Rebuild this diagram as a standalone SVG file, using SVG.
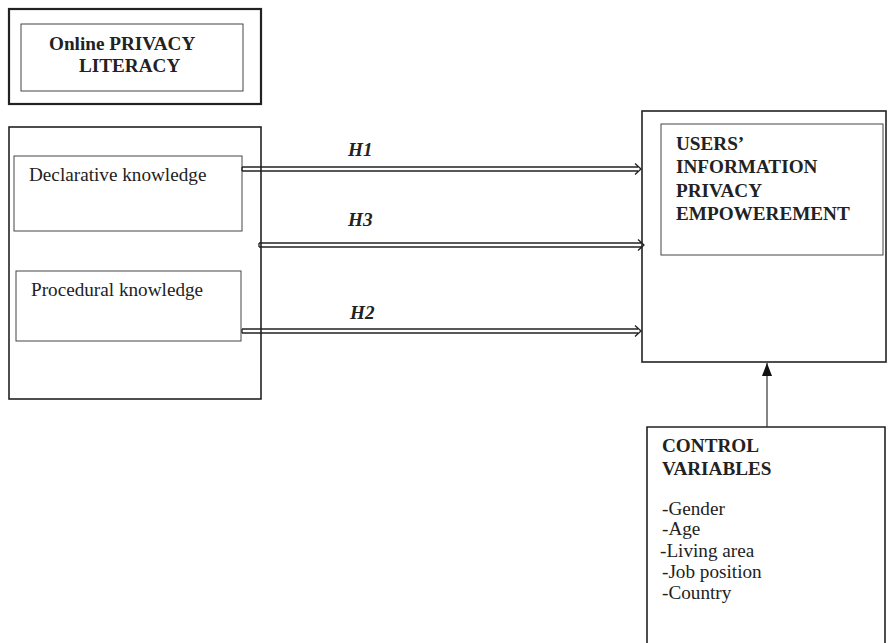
<svg xmlns="http://www.w3.org/2000/svg" width="888" height="643" viewBox="0 0 888 643">
<style>
.outer{fill:#fff;stroke:#222;stroke-width:1.6}
.inner{fill:#fff;stroke:#444;stroke-width:1}
.t{font-family:"Liberation Serif","Times New Roman",serif;font-size:19.2px;fill:#222}
.b{font-weight:bold}
.h{font-weight:bold;font-style:italic}
.dbl{fill:none;stroke:#222;stroke-width:1.3}
.ln{fill:none;stroke:#333;stroke-width:1.2}
</style>
<defs>
<marker id="tri" viewBox="0 0 10 10" refX="10" refY="5" markerWidth="13" markerHeight="10" markerUnits="userSpaceOnUse" orient="auto" preserveAspectRatio="none">
<path d="M0,0 L10,5 L0,10 Z" fill="#111"/>
</marker>
</defs>
<rect width="888" height="643" fill="#fff"/>

<g id="title">
<rect class="outer" x="9" y="9" width="252" height="95" style="stroke-width:2.2"/>
<rect class="inner" x="21" y="24" width="222" height="67"/>
<text class="t b" x="49" y="50">Online PRIVACY</text>
<text class="t b" x="79" y="72">LITERACY</text>
</g>

<g id="literacy">
<rect class="outer" x="9" y="127" width="252" height="272"/>
</g>

<g id="declarative">
<rect class="inner" x="14" y="156" width="228" height="75"/>
<text class="t" x="29" y="181">Declarative knowledge</text>
</g>

<g id="procedural">
<rect class="inner" x="16" y="271" width="225" height="70"/>
<text class="t" x="31" y="296">Procedural knowledge</text>
</g>

<g id="empowerment">
<rect class="outer" x="642" y="111" width="244" height="251"/>
<rect class="inner" x="661" y="124" width="222" height="131"/>
<text class="t b" x="676" y="150">USERS’</text>
<text class="t b" x="676" y="173">INFORMATION</text>
<text class="t b" x="676" y="197">PRIVACY</text>
<text class="t b" x="676" y="220">EMPOWEREMENT</text>
</g>

<g id="control">
<path class="outer" d="M647,650 V427 H885 V650"/>
<text class="t b" x="662" y="452">CONTROL</text>
<text class="t b" x="662" y="475">VARIABLES</text>
<text class="t" x="662" y="515">-Gender</text>
<text class="t" x="662" y="535">-Age</text>
<text class="t" x="660" y="557">-Living area</text>
<text class="t" x="662" y="578">-Job position</text>
<text class="t" x="662" y="599">-Country</text>
</g>

<g id="connectors">
<path class="dbl" d="M242,167 H638 M242,171 H638 M242,167 V171 M635,163.5 L641,169 L635,174.5"/>
<text class="t h" x="348" y="156">H1</text>
<path class="dbl" d="M259,243 H641 M259,247 H641 M259,243 V247 M638,239.5 L644,245 L638,250.5"/>
<text class="t h" x="348" y="226">H3</text>
<path class="dbl" d="M242,329 H638 M242,333 H638 M242,329 V333 M635,325.5 L641,331 L635,336.5"/>
<text class="t h" x="350" y="319">H2</text>
<line class="ln" x1="767" y1="427" x2="767" y2="363" marker-end="url(#tri)"/>
</g>
</svg>
